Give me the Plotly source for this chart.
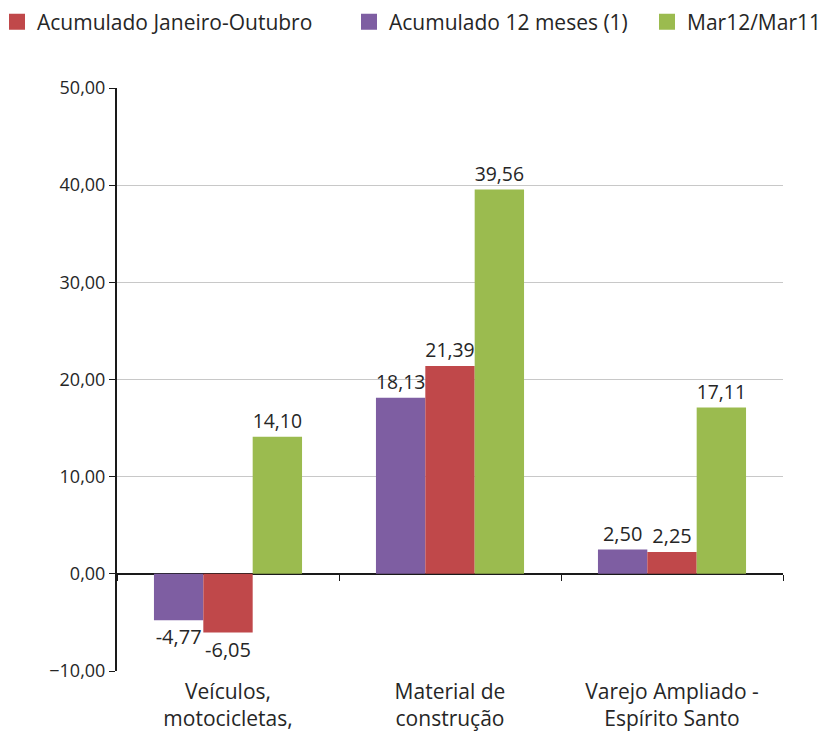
import plotly.graph_objects as go

categories = ["Veículos,<br>motocicletas,<br>partes e peças", "Material de<br>construção", "Varejo Ampliado -<br>Espírito Santo"]
series_names = ["Acumulado 12 meses (1)", "Acumulado Janeiro-Outubro", "Mar12/Mar11"]
acum_12m = [-4.77, 18.13, 2.50]
acum_jan_out = [-6.05, 21.39, 2.25]
mar12_mar11 = [14.10, 39.56, 17.11]
colors = ["#7E5EA2", "#C0484A", "#9BBB4F"]
legend_ids = ["legend2", "legend", "legend3"]
y_ticks = [-10, 0, 10, 20, 30, 40, 50]

FONT = "Open Sans"
TXT = "#262626"
W, H = 823, 730   # page body adds an 8px offset
ML, MR, MT, MB = 109, 48, 80, 67
PW, PH = W - ML - MR, H - MT - MB

fig = go.Figure()
for name, vals, col, lg in zip(series_names, [acum_12m, acum_jan_out, mar12_mar11], colors, legend_ids):
    fig.add_trace(go.Bar(
        x=categories, y=vals, name=name, marker_color=col,
        marker_line_width=0,
        texttemplate="%{y:.2f}", textposition="outside", cliponaxis=False,
        textfont=dict(family=FONT, size=20, color=TXT),
        showlegend=False,
    ))
    # legend key (square swatch)
    fig.add_trace(go.Scatter(
        x=[None], y=[None], name=name, mode="markers",
        marker=dict(symbol="square", size=19, color=col),
        legend=lg, hoverinfo="skip", showlegend=True,
    ))

# helper axis drawing the category baseline at y=0 with boundary ticks
fig.add_trace(go.Scatter(x=[None], y=[None], xaxis="x2", showlegend=False, hoverinfo="skip"))

def leg(xfig):
    return dict(orientation="h", xref="paper", yref="paper",
                x=(xfig - ML) / PW, xanchor="left", y=1 + (MT + 6.5) / PH, yanchor="top",
                font=dict(family=FONT, size=21, color=TXT), bgcolor="rgba(0,0,0,0)")

fig.update_layout(
    width=W, height=H,
    margin=dict(l=ML, r=MR, t=MT, b=MB, autoexpand=False),
    paper_bgcolor="white", plot_bgcolor="white",
    separators=",.",
    barmode="group", bargap=0.333, bargroupgap=0,
    font=dict(family=FONT, color=TXT),
    showlegend=True,
    legend=leg(-11), legend2=leg(341), legend3=leg(639),
    yaxis=dict(range=[-10, 50], tickvals=y_ticks, tickformat=".2f",
               showgrid=True, gridcolor="#C8C8C8", gridwidth=1,
               zeroline=True, zerolinecolor="#1a1a1a", zerolinewidth=2,
               showline=True, linecolor="#1a1a1a", linewidth=2,
               ticks="outside", ticklen=6, tickcolor="#1a1a1a",
               tickfont=dict(family=FONT, size=18, color=TXT), automargin=False),
    xaxis=dict(type="category", showline=False, ticks="", showgrid=False,
               tickfont=dict(family=FONT, size=21, color=TXT), automargin=False,
               ticklabelstandoff=6),
    xaxis2=dict(overlaying="x", anchor="free", position=10 / 60, range=[-0.5, 2.5],
                tickvals=[-0.5, 0.5, 1.5, 2.5], showticklabels=False,
                ticks="outside", ticklen=6, tickcolor="#1a1a1a",
                showline=False, showgrid=False, zeroline=False, side="bottom"),
)

fig.write_html("out.html")
